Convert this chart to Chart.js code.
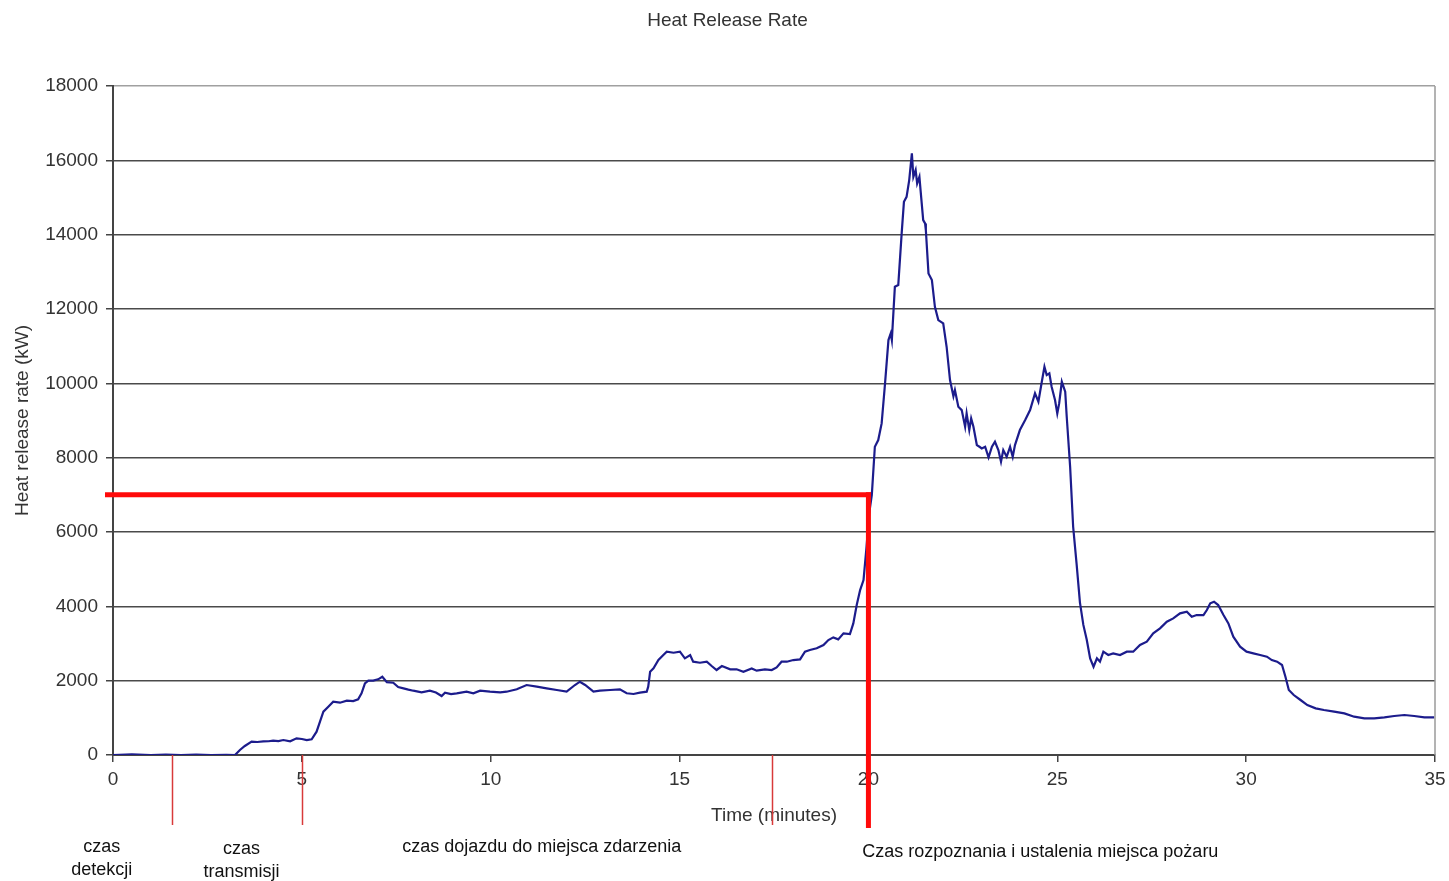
<!DOCTYPE html>
<html>
<head>
<meta charset="utf-8">
<title>Heat Release Rate</title>
<script src="https://cdn.jsdelivr.net/npm/chart.js@4.4.0/dist/chart.umd.min.js"></script>
<style>
	html, body { margin: 0; padding: 0; background: #ffffff; }
	#hrrcanvas { display: block; }
</style>
</head>
<body>
<canvas id="hrrcanvas" width="1449" height="881"></canvas>
<script>
var minutes = [
	0, 0.5, 1.0, 1.4, 1.8, 2.2, 2.6, 3.0, 3.23, 3.36, 3.49, 3.67, 3.82, 3.98, 4.12, 4.24, 4.38, 4.51, 4.69, 4.86,
	5.0, 5.13, 5.26, 5.39, 5.48, 5.57, 5.70, 5.83, 6.01, 6.19, 6.36, 6.49, 6.58, 6.67, 6.76, 6.89, 7.02, 7.13, 7.25, 7.42,
	7.55, 7.69, 7.82, 7.95, 8.17, 8.39, 8.55, 8.70, 8.79, 8.95, 9.10, 9.36, 9.54, 9.72, 9.98, 10.25, 10.42, 10.69, 10.95, 11.22,
	11.48, 11.75, 12.01, 12.23, 12.36, 12.50, 12.72, 12.89, 13.16, 13.42, 13.60, 13.78, 13.95, 14.13, 14.17, 14.22, 14.31, 14.44, 14.57, 14.66,
	14.84, 15.01, 15.14, 15.28, 15.36, 15.54, 15.72, 15.85, 15.98, 16.12, 16.34, 16.51, 16.69, 16.91, 17.04, 17.26, 17.44, 17.57, 17.70, 17.84,
	18.01, 18.19, 18.32, 18.45, 18.63, 18.81, 18.94, 19.07, 19.20, 19.34, 19.51, 19.60, 19.69, 19.78, 19.87, 19.95, 20.02, 20.09, 20.17, 20.26,
	20.35, 20.44, 20.53, 20.59, 20.62, 20.70, 20.79, 20.88, 20.94, 21.01, 21.08, 21.15, 21.19, 21.25, 21.29, 21.35, 21.38, 21.45, 21.50, 21.52,
	21.59, 21.68, 21.76, 21.85, 21.98, 22.07, 22.16, 22.25, 22.29, 22.38, 22.47, 22.56, 22.60, 22.67, 22.72, 22.78, 22.87, 22.94, 23.00, 23.09,
	23.18, 23.27, 23.35, 23.44, 23.51, 23.57, 23.66, 23.75, 23.82, 23.88, 24.01, 24.15, 24.28, 24.41, 24.50, 24.59, 24.66, 24.72, 24.79, 24.85,
	24.94, 25.00, 25.05, 25.12, 25.21, 25.25, 25.34, 25.42, 25.51, 25.60, 25.69, 25.78, 25.87, 25.96, 26.05, 26.13, 26.22, 26.35, 26.48, 26.66,
	26.84, 27.01, 27.19, 27.37, 27.54, 27.72, 27.90, 28.07, 28.25, 28.43, 28.56, 28.69, 28.87, 28.96, 29.05, 29.15, 29.26, 29.40, 29.53, 29.66,
	29.84, 30.01, 30.19, 30.37, 30.55, 30.68, 30.82, 30.95, 31.04, 31.13, 31.26, 31.44, 31.62, 31.84, 32.06, 32.33, 32.60, 32.86, 33.13, 33.39,
	33.66, 33.92, 34.19, 34.45, 34.72, 34.98
];

var hrr = [
	0, 15, 0, 10, 0, 10, 0, 5, 0, 134, 242, 358, 350, 365, 370, 385, 375, 403, 370, 448,
	430, 403, 421, 627, 896, 1165, 1300, 1434, 1407, 1461, 1452, 1498, 1660, 1929, 2000, 2000, 2036, 2106, 1960, 1945,
	1830, 1794, 1760, 1730, 1687, 1730, 1680, 1587, 1676, 1640, 1660, 1703, 1660, 1730, 1703, 1687, 1703, 1767, 1883, 1838,
	1794, 1749, 1703, 1883, 1972, 1883, 1703, 1730, 1749, 1767, 1660, 1641, 1676, 1703, 1838, 2240, 2330, 2555, 2690, 2780,
	2752, 2780, 2600, 2690, 2510, 2483, 2510, 2394, 2287, 2394, 2305, 2305, 2240, 2330, 2268, 2305, 2287, 2358, 2510, 2510,
	2555, 2573, 2780, 2825, 2870, 2959, 3093, 3165, 3111, 3272, 3254, 3541, 4035, 4438, 4707, 5600, 6500, 7000, 8293, 8474,
	8922, 9998, 11164, 11344, 11164, 12597, 12643, 14034, 14884, 15018, 15468, 16186, 15557, 15737, 15378, 15557, 15199, 14392, 14303, 14124,
	12958, 12778, 12060, 11702, 11613, 10984, 10088, 9650, 9819, 9370, 9280, 8832, 9191, 8743, 9057, 8832, 8339, 8293, 8250, 8293,
	8008, 8293, 8428, 8204, 7890, 8204, 8024, 8293, 8024, 8339, 8743, 9012, 9280, 9730, 9504, 10042, 10445, 10222, 10267, 9907,
	9550, 9191, 9460, 10042, 9773, 9100, 7755, 6141, 5157, 4100, 3500, 3100, 2600, 2375, 2600, 2510, 2780, 2690, 2735, 2690,
	2780, 2780, 2959, 3048, 3272, 3407, 3586, 3676, 3811, 3855, 3720, 3766, 3766, 3900, 4080, 4125, 4035, 3766, 3542, 3182,
	2914, 2780, 2735, 2690, 2645, 2555, 2510, 2420, 2106, 1749, 1614, 1480, 1345, 1256, 1211, 1165, 1121, 1031, 987, 987,
	1014, 1049, 1076, 1049, 1014, 1014
];

// markers on the time axis and the 7 MW threshold
var phaseMarks = [1.55, 5, 17.45];
var thresholdTime = 20;
var thresholdValue = 7000;

var phaseLabels = [
	{ t: -0.3, lines: ["czas", "detekcji"] },
	{ t: 3.4, lines: ["czas", "transmisji"] },
	{ t: 11.35, lines: ["czas dojazdu do miejsca zdarzenia"] },
	{ t: 24.55, lines: ["Czas rozpoznania i ustalenia miejsca pożaru"] }
];
var phaseLabelY = [847, 849, 847, 852];

var fontFamily = "Arial, 'Liberation Sans', sans-serif";

var points = [];
for (var i = 0; i < minutes.length; i++) {
	points.push({ x: minutes[i], y: hrr[i] });
}

var extras = {
	id: 'extras',
	afterDatasetsDraw: function(chart) {
		var ctx = chart.ctx;
		var xs = chart.scales.x;
		var ys = chart.scales.y;
		var area = chart.chartArea;
		var y0 = ys.getPixelForValue(0);

		ctx.save();
		// right frame line
		ctx.strokeStyle = '#9a9a9a';
		ctx.lineWidth = 1.5;
		ctx.beginPath();
		ctx.moveTo(area.right, area.top);
		ctx.lineTo(area.right, area.bottom);
		ctx.stroke();

		// thin phase marks below the axis
		ctx.strokeStyle = '#d83a3a';
		ctx.lineWidth = 1.5;
		for (var i = 0; i < phaseMarks.length; i++) {
			var px = Math.round(xs.getPixelForValue(phaseMarks[i])) + 0.5;
			ctx.beginPath();
			ctx.moveTo(px, y0);
			ctx.lineTo(px, y0 + 70);
			ctx.stroke();
		}

		// threshold lines
		var tx = xs.getPixelForValue(thresholdTime);
		var ty = ys.getPixelForValue(thresholdValue);
		ctx.strokeStyle = '#ff0a0a';
		ctx.lineWidth = 5;
		ctx.lineCap = 'butt';
		ctx.beginPath();
		ctx.moveTo(xs.getPixelForValue(0) - 8, ty);
		ctx.lineTo(tx + 2.5, ty);
		ctx.stroke();
		ctx.beginPath();
		ctx.moveTo(tx, ty - 2.5);
		ctx.lineTo(tx, y0 + 73);
		ctx.stroke();

		// chart title
		ctx.fillStyle = '#333333';
		ctx.font = '19px ' + fontFamily;
		ctx.textAlign = 'center';
		ctx.textBaseline = 'middle';
		ctx.fillText('Heat Release Rate', chart.width / 2 + 3, 21);

		// phase captions
		ctx.fillStyle = '#111111';
		ctx.font = '18px ' + fontFamily;
		for (var j = 0; j < phaseLabels.length; j++) {
			var lx = xs.getPixelForValue(phaseLabels[j].t);
			var lines = phaseLabels[j].lines;
			for (var k = 0; k < lines.length; k++) {
				ctx.fillText(lines[k], lx, phaseLabelY[j] + k * 23);
			}
		}
		ctx.restore();
	}
};

var ctx = document.getElementById('hrrcanvas');

var HrrGraph = new Chart(ctx, {
	type: 'line',
	data: {
		datasets: [
			{
				label: 'Heat release rate',
				data: points,
				borderColor: 'rgba(28, 28, 140, 1)',
				backgroundColor: 'rgba(28, 28, 140, 1)',
				borderWidth: 2.2,
				pointRadius: 0,
				tension: 0,
				fill: false
			}
		]
	},
	options: {
		responsive: false,
		animation: false,
		layout: { padding: { left: 0, right: 14, top: 86, bottom: 0 } },
		plugins: {
			legend: { display: false },
			title: { display: false },
			tooltip: { enabled: false }
		},
		scales: {
			x: {
				type: 'linear',
				min: 0,
				max: 35,
				ticks: {
					stepSize: 5,
					color: '#333333',
					font: { family: fontFamily, size: 19 },
					padding: 6,
					maxRotation: 0
				},
				grid: {
					drawOnChartArea: false,
					drawTicks: true,
					tickLength: 7,
					tickColor: '#444444',
					lineWidth: 1.5
				},
				border: { color: '#444444', width: 2 },
				title: {
					display: true,
					text: 'Time (minutes)',
					color: '#333333',
					font: { family: fontFamily, size: 19 },
					padding: { top: 0, bottom: 54 }
				},
				afterFit: function(scale) {
					scale.height = 126;
					scale.paddingLeft = 0;
					scale.paddingRight = 0;
				}
			},
			y: {
				min: 0,
				max: 18000,
				ticks: {
					stepSize: 2000,
					color: '#333333',
					font: { family: fontFamily, size: 19 },
					padding: 8,
					callback: function(value) { return String(value); }
				},
				grid: {
					color: function(c) { return c.tick && c.tick.value === 18000 ? '#a0a0a0' : '#4a4a4a'; },
					lineWidth: 1.5,
					tickLength: 7,
					tickColor: '#444444'
				},
				border: { color: '#444444', width: 2 },
				title: {
					display: true,
					text: 'Heat release rate (kW)',
					color: '#333333',
					font: { family: fontFamily, size: 19 },
					padding: { top: 11, bottom: 0 }
				},
				afterFit: function(scale) { scale.width = 113; }
			}
		}
	},
	plugins: [extras]
});
</script>
</body>
</html>
